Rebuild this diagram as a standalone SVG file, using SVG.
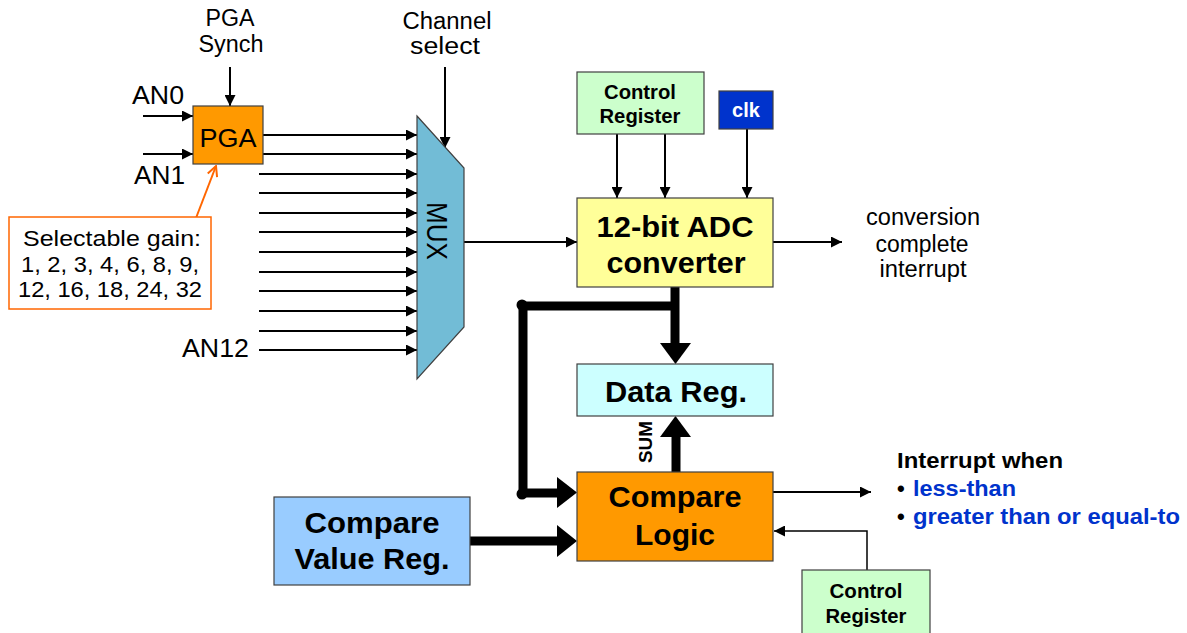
<svg xmlns="http://www.w3.org/2000/svg" width="1187" height="633" viewBox="0 0 1187 633">
<defs>
<style>
text{font-family:"Liberation Sans",Arial,sans-serif;fill:#000}
.r{font-size:23px}
.an{font-size:25px}
.b20{font-size:20px;font-weight:bold}
.b30{font-size:30px;font-weight:bold}
.c{text-anchor:middle}
.box{stroke:#404040;stroke-width:1.2}
.thin{fill:none;stroke:#000;stroke-width:2;marker-end:url(#ah)}
.thick{fill:none;stroke:#000;stroke-width:9}
.head{fill:#000}
</style>
<marker id="ah" markerUnits="userSpaceOnUse" markerWidth="11" markerHeight="11" viewBox="0 0 11 11" refX="11" refY="5.5" orient="auto"><path d="M0,0 L11,5.5 L0,11 z" fill="#000"/></marker>
<marker id="oh" markerUnits="userSpaceOnUse" markerWidth="12" markerHeight="12" viewBox="0 0 12 12" refX="11" refY="6" orient="auto"><path d="M1,1 L11,6 L1,11" fill="none" stroke="#FF6600" stroke-width="2"/></marker>
</defs>
<rect width="1187" height="633" fill="#fff"/>

<g id="connectors">
<path class="thin" d="M230,67 V106"/>
<path class="thin" d="M445,67 V148"/>
<path class="thin" d="M143,116 H193"/>
<path class="thin" d="M143,154 H193"/>
<path class="thin" d="M262,135 H417"/>
<path class="thin" d="M262,154 H417"/>
<path class="thin" d="M259,174 H417"/>
<path class="thin" d="M259,193 H417"/>
<path class="thin" d="M259,213 H417"/>
<path class="thin" d="M259,232 H417"/>
<path class="thin" d="M259,252 H417"/>
<path class="thin" d="M259,272 H417"/>
<path class="thin" d="M259,291 H417"/>
<path class="thin" d="M259,311 H417"/>
<path class="thin" d="M259,331 H417"/>
<path class="thin" d="M259,350 H417"/>
<path d="M196,218 L216,166" fill="none" stroke="#FF6600" stroke-width="2" marker-end="url(#oh)"/>
<path class="thin" d="M464,242 H577"/>
<path class="thin" d="M617,134 V198"/>
<path class="thin" d="M665,134 V198"/>
<path class="thin" d="M747,129 V198"/>
<path class="thin" d="M773,242 H842"/>
<path class="thin" d="M773,492 H871"/>
<path class="thin" style="stroke-width:1.5" d="M867,570 V531 H774"/>
<path class="thick" d="M675,287 V344"/>
<polygon class="head" points="660,343 691,343 675.5,364"/>
<path class="thick" d="M675,306 H523 V493 H558"/>
<circle cx="522" cy="305" r="5.5"/>
<circle cx="522" cy="494" r="5.5"/>
<polygon class="head" points="557,477 557,508 577,492.5"/>
<path class="thick" d="M676,472 V436"/>
<polygon class="head" points="660,437 691,437 675.5,416"/>
<path class="thick" d="M470,541 H558"/>
<polygon class="head" points="557,525 557,557 577,541"/>
</g>

<g id="pga-synch-label"><text class="r c" x="230" y="26" textLength="49" lengthAdjust="spacingAndGlyphs">PGA</text><text class="r c" x="231" y="52" textLength="65" lengthAdjust="spacingAndGlyphs">Synch</text></g>
<g id="channel-select-label"><text class="r c" x="447" y="29" textLength="89" lengthAdjust="spacingAndGlyphs">Channel</text><text class="r c" x="445" y="54" textLength="70" lengthAdjust="spacingAndGlyphs">select</text></g>
<g id="an-labels"><text class="an" x="132" y="104" textLength="52" lengthAdjust="spacingAndGlyphs">AN0</text><text class="an" x="134" y="184" textLength="51" lengthAdjust="spacingAndGlyphs">AN1</text><text class="an" x="182" y="357" textLength="67" lengthAdjust="spacingAndGlyphs">AN12</text></g>

<g id="pga"><rect class="box" x="193" y="106" width="70" height="58" fill="#FF9900"/><text class="c" x="228" y="147" style="font-size:26px" textLength="57" lengthAdjust="spacingAndGlyphs">PGA</text></g>

<g id="gain-note"><rect x="9" y="217" width="202" height="92" fill="#fff" stroke="#FF6600" stroke-width="1.5"/>
<text class="c" x="112" y="246" style="font-size:22.5px" textLength="178" lengthAdjust="spacingAndGlyphs">Selectable gain:</text>
<text class="c" x="110" y="272" style="font-size:22.5px" textLength="178" lengthAdjust="spacingAndGlyphs">1, 2, 3, 4, 6, 8, 9,</text>
<text class="c" x="110" y="297" style="font-size:22.5px" textLength="184" lengthAdjust="spacingAndGlyphs">12, 16, 18, 24, 32</text></g>

<g id="mux"><polygon class="box" points="417,116 464,168 464,327 417,379" fill="#72BCD6"/><text class="c" transform="translate(427,231) rotate(90)" style="font-size:29px" textLength="58" lengthAdjust="spacingAndGlyphs">MUX</text></g>

<g id="control-register-top"><rect class="box" x="577" y="72" width="127" height="62" fill="#CCFFCC"/><text class="b20 c" x="640" y="99" textLength="72" lengthAdjust="spacingAndGlyphs">Control</text><text class="b20 c" x="640" y="123" textLength="81" lengthAdjust="spacingAndGlyphs">Register</text></g>

<g id="clk"><rect class="box" x="719" y="91" width="54" height="38" fill="#0033CC"/><text class="b20 c" x="746" y="117" style="fill:#fff">clk</text></g>

<g id="adc"><rect class="box" x="577" y="198" width="196" height="89" fill="#FFFF99"/><text class="b30 c" x="675" y="237" textLength="157" lengthAdjust="spacingAndGlyphs">12-bit ADC</text><text class="b30 c" x="676" y="273" textLength="139" lengthAdjust="spacingAndGlyphs">converter</text></g>

<g id="conversion-label"><text class="r c" x="923" y="225" textLength="114" lengthAdjust="spacingAndGlyphs">conversion</text><text class="r c" x="922" y="252" textLength="93" lengthAdjust="spacingAndGlyphs">complete</text><text class="r c" x="923" y="277" textLength="87" lengthAdjust="spacingAndGlyphs">interrupt</text></g>

<g id="data-reg"><rect class="box" x="577" y="364" width="196" height="52" fill="#CCFFFF"/><text class="b30 c" x="676" y="402" textLength="142" lengthAdjust="spacingAndGlyphs">Data Reg.</text></g>

<g id="sum-label"><text class="c" transform="translate(652,442) rotate(-90)" style="font-size:19px;font-weight:bold" textLength="42" lengthAdjust="spacingAndGlyphs">SUM</text></g>

<g id="compare-logic"><rect class="box" x="577" y="472" width="196" height="89" fill="#FF9900"/><text class="b30 c" x="675" y="507" textLength="133" lengthAdjust="spacingAndGlyphs">Compare</text><text class="b30 c" x="675" y="545">Logic</text></g>

<g id="compare-value-reg"><rect class="box" x="274" y="497" width="196" height="88" fill="#99CCFF"/><text class="b30 c" x="372" y="533" textLength="135" lengthAdjust="spacingAndGlyphs">Compare</text><text class="b30 c" x="372" y="569" textLength="155" lengthAdjust="spacingAndGlyphs">Value Reg.</text></g>

<g id="control-register-bottom"><rect class="box" x="802" y="570" width="128" height="70" fill="#CCFFCC"/><text class="b20 c" x="866" y="598" textLength="73" lengthAdjust="spacingAndGlyphs">Control</text><text class="b20 c" x="866" y="623" textLength="81" lengthAdjust="spacingAndGlyphs">Register</text></g>

<g id="interrupt-note" style="font-size:22px;font-weight:bold">
<text x="897" y="468" textLength="166" lengthAdjust="spacingAndGlyphs">Interrupt when</text>
<text x="897" y="496">•<tspan x="913" style="fill:#0033CC" textLength="103" lengthAdjust="spacingAndGlyphs">less-than</tspan></text>
<text x="897" y="524">•<tspan x="913" style="fill:#0033CC" textLength="267" lengthAdjust="spacingAndGlyphs">greater than or equal-to</tspan></text>
</g>
</svg>
